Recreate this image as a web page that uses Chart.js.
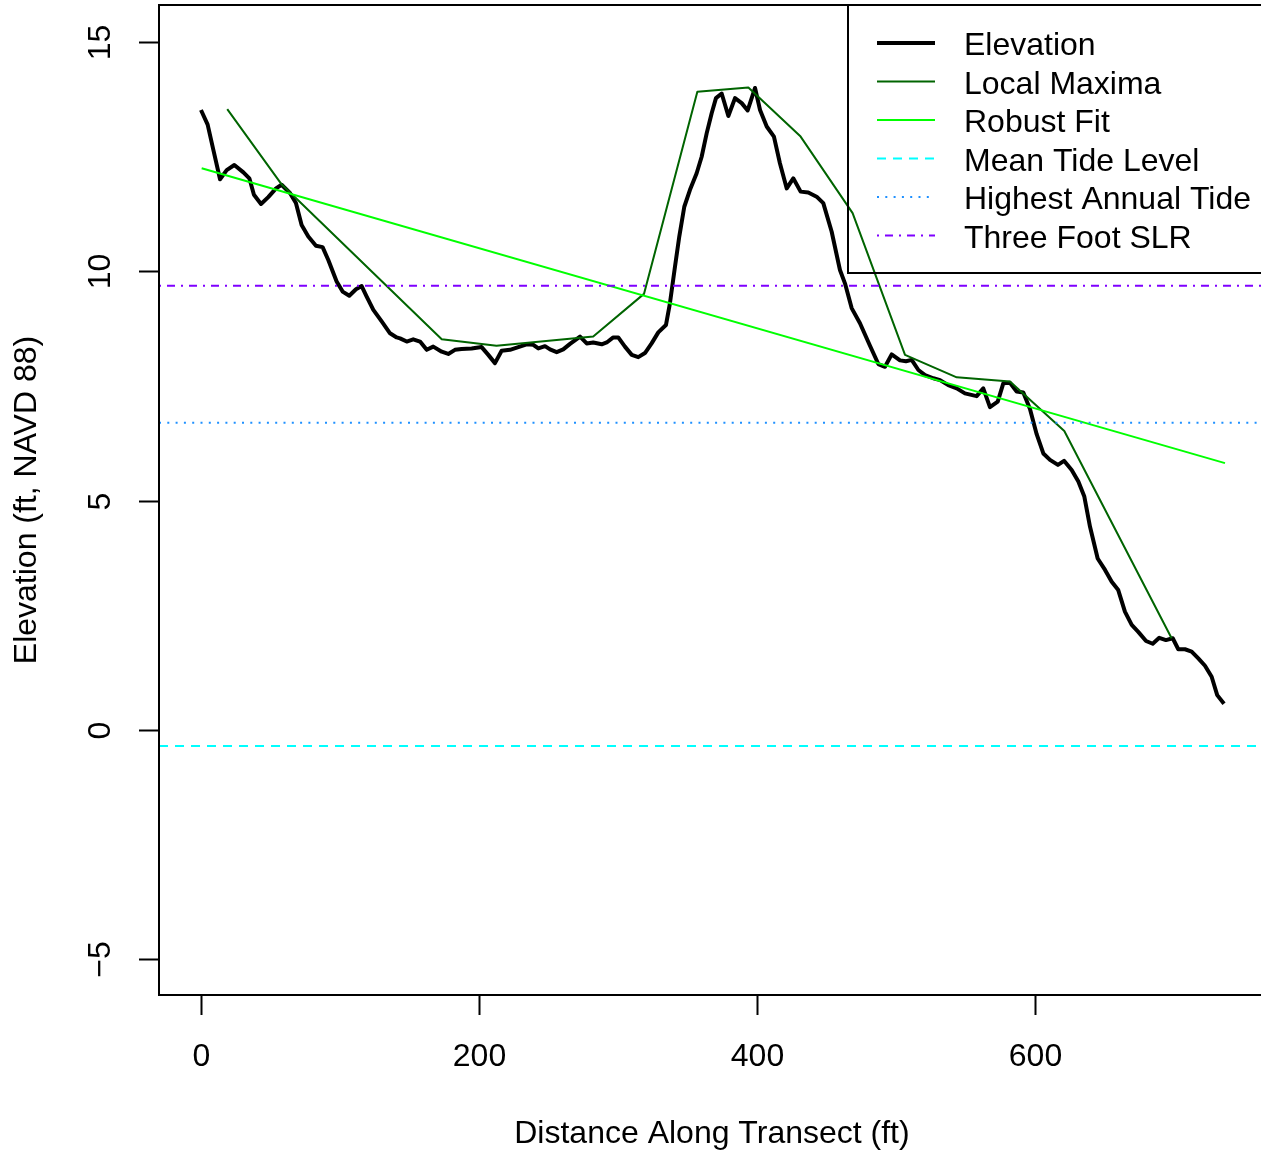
<!DOCTYPE html>
<html>
<head>
<meta charset="utf-8">
<script src="https://cdn.jsdelivr.net/npm/chart.js@4.4.1/dist/chart.umd.min.js"></script>
<style>
  html, body { margin: 0; padding: 0; background: #fff; }
  #profileChart { display: block; }
</style>
</head>
<body>
<canvas id="profileChart" width="1261" height="1154"></canvas>
<script>
// transect profile
const elevDist = [0, 4.8, 8.9, 13.7, 18.5, 24, 30.5, 34.8, 38.1, 43.2, 48.4, 54, 58, 64, 68.3, 72.4, 77.2, 82.7, 87.5, 91.6,
  97.6, 101.9, 106.7, 111.5, 115.6, 119.2, 124, 130, 136, 140.8, 143.2, 148, 152.7, 157.6, 162.4, 167.1, 173.2, 177.9, 182.7, 187.5,
  194.7, 201.9, 206.7, 211.5, 216.3, 222.3, 228.3, 234.3, 239.1, 242.7, 247.5, 251.1, 255.9, 260.6, 265.5, 272.7, 277.5, 282.2, 288.3, 291.9,
  296.6, 300.2, 305, 309.9, 314.6, 319.4, 324.2, 329, 334.5, 337.4, 341, 344.1, 347.7, 351.8, 356.6, 360.2, 363.8, 367.4, 370.5, 374.6,
  379.4, 384.2, 389, 393.3, 398.6, 402.2, 407, 412.2, 416.5, 421.4, 426.1, 431.4, 436.9, 442.9, 447.7, 453.7, 459.7, 463.3, 468.1, 474.1,
  481.3, 487.3, 492.1, 496.9, 502.9, 507.2, 511.3, 516.1, 520.9, 526.9, 531.7, 537.6, 543.7, 549.6, 558, 562.8, 567.6, 573.2, 577.2, 582,
  586.8, 591.6, 596.4, 601.2, 606, 610.8, 616.5, 620.9, 626.4, 631.2, 635.5, 639.6, 645.1, 650.4, 655.2, 659.9, 664.7, 669.6, 674.3, 679.9,
  684.7, 689.4, 694.2, 699.1, 703.1, 707.9, 712.7, 717.5, 722.3, 727.1, 731.1, 736];
const elevFt = [13.52, 13.2, 12.65, 12.01, 12.21, 12.32, 12.16, 12.03, 11.67, 11.47, 11.62, 11.81, 11.89, 11.71, 11.49, 11.01, 10.76, 10.56, 10.53, 10.25,
  9.78, 9.56, 9.47, 9.61, 9.68, 9.45, 9.16, 8.91, 8.65, 8.56, 8.54, 8.47, 8.52, 8.47, 8.29, 8.36, 8.25, 8.2, 8.29, 8.31,
  8.32, 8.35, 8.18, 8.0, 8.27, 8.29, 8.35, 8.41, 8.4, 8.32, 8.37, 8.3, 8.24, 8.3, 8.42, 8.58, 8.43, 8.45, 8.41, 8.45,
  8.56, 8.56, 8.36, 8.18, 8.13, 8.22, 8.43, 8.67, 8.83, 9.31, 10.1, 10.76, 11.41, 11.78, 12.14, 12.5, 13.01, 13.45, 13.78, 13.88,
  13.39, 13.78, 13.67, 13.51, 14.0, 13.52, 13.16, 12.94, 12.36, 11.81, 12.03, 11.74, 11.72, 11.63, 11.49, 10.87, 10.03, 9.74, 9.2, 8.87,
  8.38, 7.98, 7.92, 8.19, 8.06, 8.04, 8.07, 7.85, 7.74, 7.67, 7.63, 7.52, 7.45, 7.34, 7.28, 7.45, 7.04, 7.16, 7.56, 7.57,
  7.38, 7.36, 7.0, 6.45, 6.03, 5.89, 5.78, 5.87, 5.67, 5.42, 5.09, 4.43, 3.74, 3.49, 3.23, 3.05, 2.58, 2.29, 2.14, 1.94,
  1.88, 2.01, 1.96, 2.0, 1.76, 1.76, 1.71, 1.56, 1.4, 1.16, 0.76, 0.57];

const maxDist = [18.9, 58, 173.2, 212.6, 282.2, 318.7, 357.1, 393.8, 431.4, 468.8, 506.5, 543.7, 582, 621.1, 698.3];
const maxFt = [13.54, 11.9, 8.52, 8.38, 8.58, 9.51, 13.92, 14.01, 12.94, 11.27, 8.18, 7.69, 7.6, 6.52, 2.0];

const fitDist = [0.5, 736.7];
const fitFt = [12.25, 5.82];

const meanTide = -0.35;
const highestTide = 6.7;
const threeFootSlr = 9.69;

const xTicks = [0, 200, 400, 600];
const yTicks = [-5, 0, 5, 10, 15];
const legendLabels = ['Elevation', 'Local Maxima', 'Robust Fit', 'Mean Tide Level', 'Highest Annual Tide', 'Three Foot SLR'];

const xMin = -30.2, xMax = 762.6;
const yMin = -5.78, yMax = 15.81;

const FONT = '32px "Liberation Sans", Arial, sans-serif';

function pairs(xs, ys) {
  return xs.map((x, i) => ({ x: x, y: ys[i] }));
}

function hline(y) {
  return [{ x: xMin, y: y }, { x: xMax, y: y }];
}

function lineSet(label, data, color, width, dash) {
  return {
    label: label,
    data: data,
    borderColor: color,
    borderWidth: width,
    borderDash: dash || [],
    showLine: true,
    pointRadius: 0,
    tension: 0,
    fill: false,
    borderJoinStyle: 'round'
  };
}

// R-style box, axes and legend drawn on top of the chart area
const baseAxes = {
  id: 'baseAxes',
  afterDraw(chart) {
    const ctx = chart.ctx;
    const area = chart.chartArea;
    const xs = chart.scales.x, ys = chart.scales.y;
    ctx.save();
    ctx.strokeStyle = '#000';
    ctx.fillStyle = '#000';
    ctx.lineWidth = 2;

    // box (right edge runs off the picture)
    ctx.beginPath();
    ctx.moveTo(area.right + 5, area.top);
    ctx.lineTo(area.left, area.top);
    ctx.lineTo(area.left, area.bottom);
    ctx.lineTo(area.right + 5, area.bottom);
    ctx.stroke();

    ctx.font = FONT;
    // x axis
    ctx.textAlign = 'center';
    ctx.textBaseline = 'alphabetic';
    xTicks.forEach(v => {
      const px = Math.round(xs.getPixelForValue(v)) + 0.5;
      ctx.beginPath();
      ctx.moveTo(px, area.bottom);
      ctx.lineTo(px, area.bottom + 20);
      ctx.stroke();
      ctx.fillText(String(v), px, 1066);
    });
    ctx.fillText('Distance Along Transect (ft)', (area.left + xs.getPixelForValue(765.4)) / 2, 1143);

    // y axis
    yTicks.forEach(v => {
      const py = Math.round(ys.getPixelForValue(v)) + 0.5;
      ctx.beginPath();
      ctx.moveTo(area.left, py);
      ctx.lineTo(area.left - 20, py);
      ctx.stroke();
      ctx.save();
      ctx.translate(110, py);
      ctx.rotate(-Math.PI / 2);
      ctx.fillText(v < 0 ? '\u2212' + Math.abs(v) : String(v), 0, 0);
      ctx.restore();
    });
    ctx.save();
    ctx.translate(35.5, (area.top + area.bottom) / 2);
    ctx.rotate(-Math.PI / 2);
    ctx.fillText('Elevation (ft, NAVD 88)', 0, 0);
    ctx.restore();

    // legend
    ctx.beginPath();
    ctx.moveTo(848, area.top);
    ctx.lineTo(848, 273);
    ctx.lineTo(area.right + 5, 273);
    ctx.stroke();
    ctx.textAlign = 'left';
    legendLabels.forEach((lab, i) => {
      const ds = chart.data.datasets.find(d => d.label === lab);
      const base = 55 + i * 38.5;
      const ly = base - 12;
      ctx.save();
      ctx.strokeStyle = ds.borderColor;
      ctx.lineWidth = ds.borderWidth;
      ctx.setLineDash(ds.borderDash);
      ctx.lineCap = 'butt';
      ctx.beginPath();
      ctx.moveTo(877, ly);
      ctx.lineTo(935, ly);
      ctx.stroke();
      ctx.restore();
      ctx.fillText(lab, 964, base);
    });
    ctx.restore();
  }
};

window.addEventListener('DOMContentLoaded', () => {
  const ctx = document.getElementById('profileChart').getContext('2d');
  new Chart(ctx, {
    type: 'scatter',
    data: {
      datasets: [
        lineSet('Three Foot SLR', hline(threeFootSlr), '#7f00ff', 2, [2, 6, 8, 6]),
        lineSet('Highest Annual Tide', hline(highestTide), '#1e90ff', 2, [2, 6.3]),
        lineSet('Mean Tide Level', hline(meanTide), '#00ffff', 2, [9, 7]),
        lineSet('Robust Fit', pairs(fitDist, fitFt), '#00ff00', 2),
        lineSet('Local Maxima', pairs(maxDist, maxFt), '#006400', 2),
        lineSet('Elevation', pairs(elevDist, elevFt), '#000000', 4)
      ]
    },
    options: {
      responsive: false,
      animation: false,
      devicePixelRatio: 1,
      layout: { padding: { left: 159, top: 5, right: 0, bottom: 159 } },
      scales: {
        x: { type: 'linear', min: xMin, max: xMax, display: false },
        y: { type: 'linear', min: yMin, max: yMax, display: false }
      },
      plugins: {
        legend: { display: false },
        tooltip: { enabled: false }
      }
    },
    plugins: [baseAxes]
  });
});
</script>
</body>
</html>
